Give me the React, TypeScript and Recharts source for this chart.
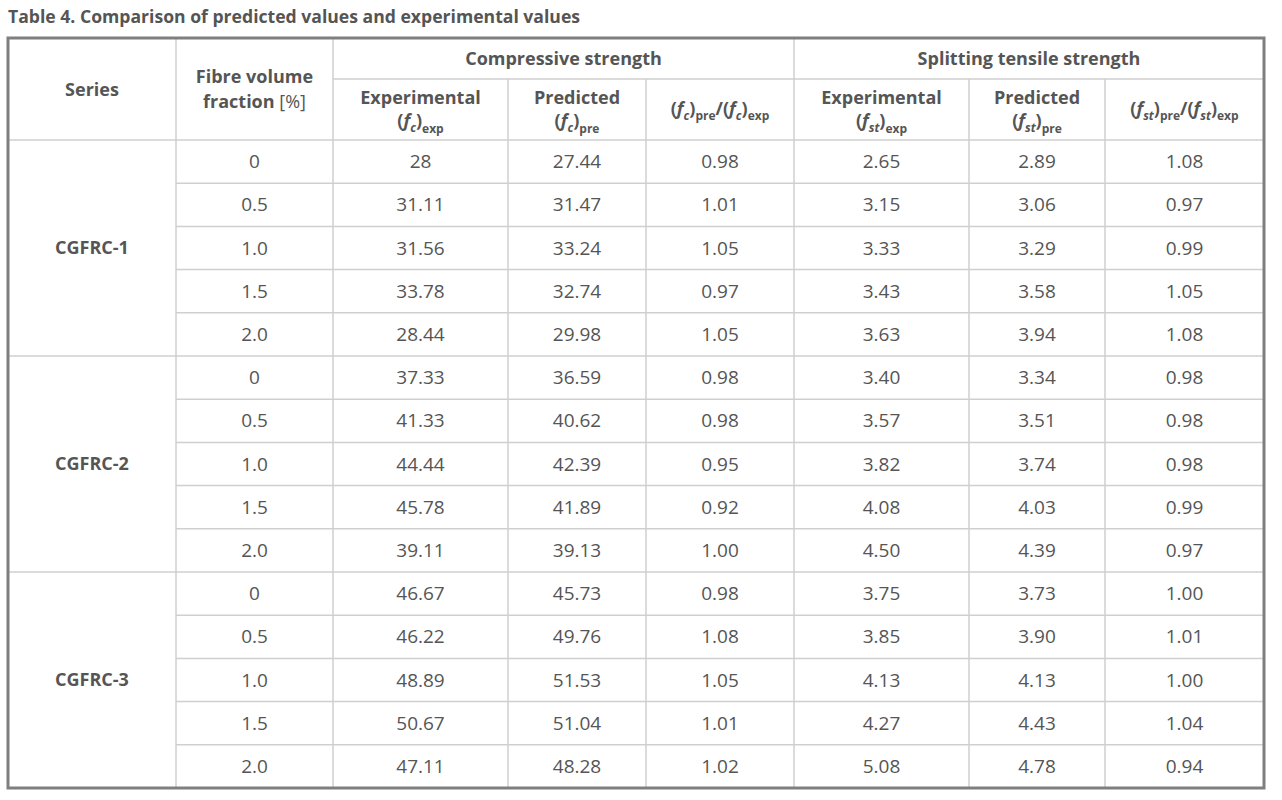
import { Surface, Layer } from "recharts";

const seriesNames = ["CGFRC-1", "CGFRC-2", "CGFRC-3"];
const fibreFractions = ["0", "0.5", "1.0", "1.5", "2.0"];

const fcExp = ["28", "31.11", "31.56", "33.78", "28.44", "37.33", "41.33", "44.44", "45.78", "39.11", "46.67", "46.22", "48.89", "50.67", "47.11"];
const fcPre = ["27.44", "31.47", "33.24", "32.74", "29.98", "36.59", "40.62", "42.39", "41.89", "39.13", "45.73", "49.76", "51.53", "51.04", "48.28"];
const fcRatio = ["0.98", "1.01", "1.05", "0.97", "1.05", "0.98", "0.98", "0.95", "0.92", "1.00", "0.98", "1.08", "1.05", "1.01", "1.02"];
const fstExp = ["2.65", "3.15", "3.33", "3.43", "3.63", "3.40", "3.57", "3.82", "4.08", "4.50", "3.75", "3.85", "4.13", "4.27", "5.08"];
const fstPre = ["2.89", "3.06", "3.29", "3.58", "3.94", "3.34", "3.51", "3.74", "4.03", "4.39", "3.73", "3.90", "4.13", "4.43", "4.78"];
const fstRatio = ["1.08", "0.97", "0.99", "1.05", "1.08", "0.98", "0.98", "0.98", "0.99", "0.97", "1.00", "1.01", "1.00", "1.04", "0.94"];

const title = "Table 4. Comparison of predicted values and experimental values";

// table geometry
const colX = [8, 176, 333, 508, 646, 794, 969, 1105, 1264];
const top = 38;
const midHead = 79;
const headBottom = 140;
const bottom = 788;
const rowH = (bottom - headBottom) / 15;

const textColor = "#555";
const gridColor = "#cfcfcf";
const font = "'Open Sans', sans-serif";

function Sym({ x, y, sym, sub }: { x: number; y: number; sym: string; sub: string }) {
  return (
    <text x={x} y={y} textAnchor="middle" fill={textColor} fontSize={18} fontWeight={700} fontFamily={font}>
      <tspan>(</tspan>
      <tspan fontStyle="italic">f</tspan>
      <tspan fontStyle="italic" fontSize={12} dy={5}>{sym}</tspan>
      <tspan dy={-5}>)</tspan>
      <tspan fontSize={12} dy={6}>{sub}</tspan>
    </text>
  );
}

function Ratio({ x, y, sym }: { x: number; y: number; sym: string }) {
  return (
    <text x={x} y={y} textAnchor="middle" fill={textColor} fontSize={18} fontWeight={700} fontFamily={font}>
      <tspan>(</tspan>
      <tspan fontStyle="italic">f</tspan>
      <tspan fontStyle="italic" fontSize={12} dy={5}>{sym}</tspan>
      <tspan dy={-5}>)</tspan>
      <tspan fontSize={12} dy={5}>pre</tspan>
      <tspan dy={-5}>/(</tspan>
      <tspan fontStyle="italic">f</tspan>
      <tspan fontStyle="italic" fontSize={12} dy={5}>{sym}</tspan>
      <tspan dy={-5}>)</tspan>
      <tspan fontSize={12} dy={5}>exp</tspan>
    </text>
  );
}

export default function App() {
  const cx = (i: number) => (colX[i] + colX[i + 1]) / 2;
  const rowY = (r: number) => headBottom + rowH * r;
  const columns = [fcExp, fcPre, fcRatio, fstExp, fstPre, fstRatio];

  const bold = { fill: textColor, fontSize: 18, fontWeight: 700, fontFamily: font, textAnchor: "middle" as const };
  const plain = { fill: textColor, fontSize: 19, fontWeight: 400, fontFamily: font, textAnchor: "middle" as const };

  return (
    <div style={{ position: "absolute", left: 0, top: 0, background: "#fff" }}>
      <Surface width={1282} height={800}>
        <rect x={0} y={0} width={1282} height={800} fill="#fff" />
        <text x={8} y={23} fill={textColor} fontSize={17.6} fontWeight={700} fontFamily={font}>
          {title}
        </text>

        <Layer>
          {/* horizontal lines */}
          <line x1={colX[2]} x2={colX[8]} y1={midHead} y2={midHead} stroke={gridColor} strokeWidth={1.5} />
          {Array.from({ length: 14 }, (_, r) => {
            const y = rowY(r + 1);
            const full = (r + 1) % 5 === 0;
            return (
              <line key={r} x1={full ? colX[0] : colX[1]} x2={colX[8]} y1={y} y2={y} stroke={gridColor} strokeWidth={1.5} />
            );
          })}
          <line x1={colX[0]} x2={colX[8]} y1={headBottom} y2={headBottom} stroke={gridColor} strokeWidth={1.5} />
          {/* vertical lines */}
          {colX.slice(1, 8).map((x, i) => {
            const fullHeight = i === 0 || i === 1 || i === 4;
            return <line key={i} x1={x} x2={x} y1={fullHeight ? top : midHead} y2={bottom} stroke={gridColor} strokeWidth={1.5} />;
          })}
          <rect x={colX[0]} y={top} width={colX[8] - colX[0]} height={bottom - top} fill="none" stroke="#7f7f7f" strokeWidth={3} />
        </Layer>

        <Layer>
          {/* header */}
          <text x={cx(0)} y={90} dy="0.35em" {...bold}>Series</text>
          <text x={cx(1)} y={77} dy="0.35em" {...bold}>Fibre volume</text>
          <text x={cx(1)} y={102} dy="0.35em" {...bold}>
            fraction <tspan fontWeight={400}>[%]</tspan>
          </text>
          <text x={(colX[2] + colX[5]) / 2} y={59} dy="0.35em" {...bold}>Compressive strength</text>
          <text x={(colX[5] + colX[8]) / 2} y={59} dy="0.35em" {...bold}>Splitting tensile strength</text>

          <text x={cx(2)} y={98} dy="0.35em" {...bold}>Experimental</text>
          <Sym x={cx(2)} y={127} sym="c" sub="exp" />
          <text x={cx(3)} y={98} dy="0.35em" {...bold}>Predicted</text>
          <Sym x={cx(3)} y={127} sym="c" sub="pre" />
          <Ratio x={cx(4)} y={115} sym="c" />

          <text x={cx(5)} y={98} dy="0.35em" {...bold}>Experimental</text>
          <Sym x={cx(5)} y={127} sym="st" sub="exp" />
          <text x={cx(6)} y={98} dy="0.35em" {...bold}>Predicted</text>
          <Sym x={cx(6)} y={127} sym="st" sub="pre" />
          <Ratio x={cx(7)} y={115} sym="st" />
        </Layer>

        <Layer>
          {seriesNames.map((s, g) => (
            <text key={s} x={cx(0)} y={rowY(g * 5 + 2.5)} dy="0.35em" {...bold}>{s}</text>
          ))}
          {Array.from({ length: 15 }, (_, r) => (
            <g key={r}>
              <text x={cx(1)} y={rowY(r + 0.5)} dy="0.35em" {...plain}>{fibreFractions[r % 5]}</text>
              {columns.map((col, c) => (
                <text key={c} x={cx(c + 2)} y={rowY(r + 0.5)} dy="0.35em" {...plain}>{col[r]}</text>
              ))}
            </g>
          ))}
        </Layer>
      </Surface>
    </div>
  );
}
